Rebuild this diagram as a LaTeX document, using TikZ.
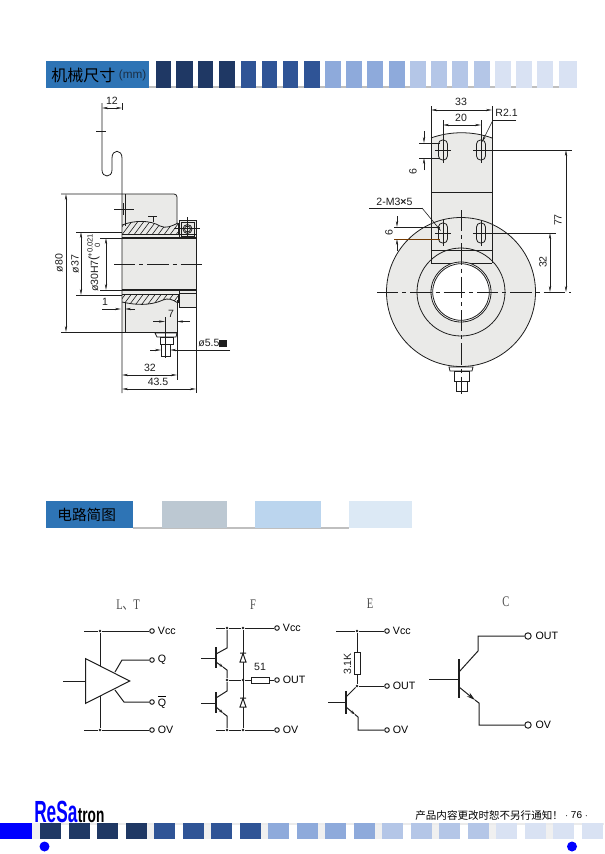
\documentclass[tikz,border=0pt]{standalone}
\usepackage{fontspec}
\setmainfont{Liberation Sans}
\newfontfamily\cjk{Noto Sans CJK SC}
\newfontfamily\serifcap{Liberation Serif}
\usepackage{tikz}
\usetikzlibrary{positioning, arrows.meta, shapes.geometric}
\definecolor{headblue}{HTML}{2E74B5}
\definecolor{darkbar}{HTML}{1F3864}
\definecolor{midbar}{HTML}{2F5496}
\definecolor{lightbar}{HTML}{8EAADB}
\definecolor{paleblue}{HTML}{B4C6E7}
\definecolor{palest}{HTML}{D9E2F3}
\definecolor{inkgray}{HTML}{1E1E1E}
\definecolor{bodygray}{HTML}{EAEAE8}
\definecolor{tabgray}{HTML}{BCC8D2}
\definecolor{tabblue}{HTML}{BBD5EE}
\definecolor{tabpale}{HTML}{DCE9F5}
\definecolor{unitgray}{HTML}{1B2F45}
\begin{document}
\begin{tikzpicture}[x=0.75pt, y=-0.75pt, line width=0.6pt, draw=inkgray, text=inkgray,
    dimtxt/.style={font=\fontsize{7.9}{8}\selectfont, inner sep=0pt},
    dimline/.style={line width=0.45pt, {Stealth[length=4.5pt,width=1.7pt]}-{Stealth[length=4.5pt,width=1.7pt]}},
    arrline/.style={line width=0.45pt, -{Stealth[length=4.5pt,width=1.7pt]}},
    extline/.style={line width=0.45pt},
    cline/.style={line width=0.6pt, dash pattern=on 16pt off 3pt on 3pt off 3pt},
    term/.style={shape=circle, draw, fill=white, inner sep=0pt, minimum size=3.4pt},
    bigterm/.style={shape=circle, draw, fill=white, inner sep=0pt, minimum size=4.8pt},
    jdot/.style={shape=circle, fill=inkgray, inner sep=0pt, minimum size=2.2pt},
    sig/.style={font=\fontsize{8}{8}\selectfont, inner sep=0pt, text=black},
    captxt/.style={font=\serifcap\fontsize{11}{11}\selectfont, inner sep=0pt, text=black!70, xscale=0.72},
    head/.style={font=\cjk\fontsize{11}{12}\selectfont, inner sep=0pt, text=black}]
    \useasboundingbox (0,0) rectangle (604,854);
    \fill[white] (0,0) rectangle (604,854);

    % top heading
    \fill[black!25] (149,86) rectangle (577,88);
    \fill[headblue] (46,61) rectangle (149,88);
    \node[head, font=\cjk\fontsize{12}{12}\selectfont, anchor=west] (mechTitle) at (51,75) {机械尺寸};
    \node[inner sep=0pt, font=\fontsize{8.8}{9}\selectfont, text=unitgray, right=2pt of mechTitle] (mechUnit) {(mm)};
    \foreach \xa/\xb/\col in {156/171/darkbar, 176/193/darkbar, 198/213/darkbar, 219/235/darkbar,
        241/256/midbar, 262/277/midbar, 283/298/midbar, 304/320/midbar,
        325/341/lightbar, 346/362/lightbar, 367/383/lightbar, 389/405/lightbar,
        410/426/paleblue, 431/447/paleblue, 452/468/paleblue, 474/490/paleblue,
        495/511/palest, 516/532/palest, 537/553/palest, 559/577/palest}
        \fill[\col] (\xa,61) rectangle (\xb,88);

    % side view: body
    \fill[bodygray] (122,194) -- (174,194) -- (177,197) -- (177,332) -- (122,332) -- cycle;
    \fill[bodygray] (122,234) rectangle (196,294);
    \fill[bodygray] (179,290) rectangle (196,307);
    \fill[bodygray] (179,220) rectangle (196,238);
    \draw (102,103) -- (102,170) .. controls (102,178) and (112,178) .. (112,170) -- (112,158)
        .. controls (112,149) and (122,149) .. (122,158) -- (122,393);
    \draw (125,194) -- (125,226);
    \draw (125,302) -- (125,332);
    \draw (61,194) -- (174,194) to[out=0, in=90] (177,197) -- (177,224);
    \draw (177,300) -- (177,380);
    \draw (61,332) -- (177,332);
    % hatched bands
    \begin{scope}
        \clip (122,225) .. controls (135,220) and (150,220) .. (160,226) .. controls (166,229) and (172,226) .. (178,223) -- (178,234) -- (122,234) -- cycle;
        \foreach \i in {0,6,...,72} \draw[line width=0.45pt] (115+\i,236) -- (127+\i,220);
    \end{scope}
    \begin{scope}
        \clip (122,294) -- (178,294) -- (178,303) .. controls (172,299) and (168,298) .. (163,300) .. controls (150,306) and (135,305) .. (122,302) -- cycle;
        \foreach \i in {0,6,...,72} \draw[line width=0.45pt] (115+\i,308) -- (127+\i,292);
    \end{scope}
    \draw (122,225) .. controls (135,220) and (150,220) .. (160,226) .. controls (166,229) and (172,226) .. (178,223);
    \draw (122,302) .. controls (135,305) and (150,306) .. (163,300) .. controls (168,298) and (172,299) .. (178,303);
    \draw (122,234) -- (196,234);
    \draw (178,223) -- (178,234);
    \draw (178,294) -- (178,303);
    \draw (122,294) -- (178,294);
    \draw[line width=0.8pt] (122,238) -- (196,238);
    \draw[line width=0.8pt] (122,290) -- (196,290);
    \draw (196,238) -- (196,393);
    \draw (179,290) rectangle (196,307);
    \draw (179,293) -- (196,293);
    % set screw
    \draw (179,220) rectangle (196,238);
    \draw (181,222) rectangle (194,236);
    \draw (187.5,229) circle (4.5);
    \draw (187.5,229) circle (3);
    \draw[line width=0.45pt] (187.5,217) -- (187.5,236);
    \draw[line width=0.45pt] (174,228) -- (200,228);
    % ticks on the lever
    \draw[line width=0.45pt] (96,131) -- (106,131);
    \draw[line width=0.45pt] (114,209) -- (134,209);
    \draw[line width=0.45pt] (123,203) -- (123,215);
    \draw[line width=0.45pt] (148,216) -- (157,216);
    \draw[line width=0.45pt] (153,216) -- (153,222);
    \draw[cline] (114,264) -- (204,264);
    % cable connector
    \draw (155,333) -- (177,333) -- (176,337) -- (157,337) -- cycle;
    \draw (160,337) rectangle (173,344);
    \draw (161,344) rectangle (170,356);
    \draw[line width=0.45pt] (165,317) -- (165,358);
    % side view dimensions
    \draw[extline] (122,103) -- (122,110);
    \node[dimtxt] (dimTwelve) at (112,101) {12};
    \coordinate (twelveA) at (102,108);
    \coordinate (twelveB) at (122,108);
    \draw[dimline] (twelveA) -- (twelveB);
    \coordinate (phiEightyA) at (66,194);
    \coordinate (phiEightyB) at (66,332);
    \draw[dimline] (phiEightyA) -- (phiEightyB);
    \node[dimtxt, rotate=90] (dimPhiEighty) at (59,263) {ø80};
    \draw[extline] (76,232) -- (122,232);
    \draw[extline] (76,295) -- (122,295);
    \coordinate (phiThirtySevenA) at (81,232);
    \coordinate (phiThirtySevenB) at (81,295);
    \draw[dimline] (phiThirtySevenA) -- (phiThirtySevenB);
    \node[dimtxt, rotate=90] (dimPhiThirtySeven) at (75,264) {ø37};
    \draw[extline] (100,238) -- (122,238);
    \draw[extline] (100,290) -- (122,290);
    \coordinate (boreA) at (106,238);
    \coordinate (boreB) at (106,290);
    \draw[dimline] (boreA) -- (boreB);
    \node[dimtxt, rotate=90] (dimBore) at (94.5,276) {ø30H7};
    \node[inner sep=0pt, rotate=90, font=\fontsize{9}{9}\selectfont] (dimBoreParen) at (94,258) {(};
    \node[inner sep=0pt, rotate=90, font=\fontsize{5.7}{6}\selectfont] (dimBoreUp) at (90,245.5) {+0.021};
    \node[inner sep=0pt, rotate=90, font=\fontsize{5.7}{6}\selectfont] (dimBoreLow) at (97.5,245.5) {0};
    \node[dimtxt] (dimOne) at (105,302) {1};
    \coordinate (oneA) at (102,309);
    \coordinate (oneB) at (121,309);
    \coordinate (oneC) at (135,309);
    \coordinate (oneD) at (125,309);
    \draw[arrline] (oneA) -- (oneB);
    \draw[arrline] (oneC) -- (oneD);
    \node[dimtxt] (dimSeven) at (171,314) {7};
    \coordinate (sevenA) at (153,321.5);
    \coordinate (sevenB) at (165,321.5);
    \coordinate (sevenC) at (190,321.5);
    \coordinate (sevenD) at (177,321.5);
    \draw[arrline] (sevenA) -- (sevenB);
    \draw[arrline] (sevenC) -- (sevenD);
    \node[dimtxt, anchor=west] (dimStud) at (198,343) {ø5.5\rule{6pt}{5pt}};
    \coordinate (studA) at (150,350);
    \coordinate (studB) at (161,350);
    \coordinate (studC) at (230,350);
    \coordinate (studD) at (170,350);
    \draw[arrline] (studA) -- (studB);
    \draw[arrline] (studC) -- (studD);
    \node[dimtxt] (dimThirtyTwo) at (150,368) {32};
    \coordinate (lenA) at (122,375);
    \coordinate (lenB) at (177,375);
    \draw[dimline] (lenA) -- (lenB);
    \node[dimtxt] (dimFortyThree) at (158,382) {43.5};
    \coordinate (totA) at (122,389);
    \coordinate (totB) at (196,389);
    \draw[dimline] (totA) -- (totB);

    % front view
    \fill[bodygray] (461,292) circle (74.5);
    \draw (461,292) circle (74.5);
    \fill[bodygray] (431,138) .. controls (450,131) and (473,131) .. (492,138) -- (492,263) -- (431,263) -- cycle;
    \draw (431,138) .. controls (450,131) and (473,131) .. (492,138);
    \draw (431,106) -- (431,263);
    \draw (492,106) -- (492,263);
    \draw (431,192) -- (492,192);
    \draw (431,250) -- (492,250);
    \draw (431,263) -- (492,263);
    \begin{scope}
        \clip (431,200) rectangle (492,263);
        \draw (461,292) circle (74.5);
    \end{scope}
    \draw (461,292) circle (44);
    \fill[white] (461,292) circle (30);
    \draw (461,292) circle (30);
    \draw (461,292) circle (28.3);
    \foreach \sx in {443,481}
        \foreach \sy in {150,233} {
            \draw[rounded corners=3pt] (\sx-4.5,\sy-10) rectangle (\sx+4.5,\sy+10);
            \draw[line width=0.45pt] (\sx,\sy-13) -- (\sx,\sy+13);
            \draw[line width=0.45pt] (\sx-8,\sy) -- (\sx+8,\sy);
        }
    \draw[cline] (377,292) -- (571,292);
    \draw[cline] (461,210) -- (461,394);
    \draw (449,367) -- (473,367) -- (472,371) -- (450,371) -- cycle;
    \draw (454,371) rectangle (469,381);
    \draw (456,381) rectangle (467,391);
    % front view dimensions
    \node[dimtxt] (dimThirtyThree) at (461,102) {33};
    \coordinate (wideA) at (431,110);
    \coordinate (wideB) at (492,110);
    \draw[dimline] (wideA) -- (wideB);
    \node[dimtxt] (dimTwenty) at (461,118) {20};
    \coordinate (pitchA) at (443,125);
    \coordinate (pitchB) at (481,125);
    \draw[dimline] (pitchA) -- (pitchB);
    \draw[extline] (443,120) -- (443,140);
    \draw[extline] (481,120) -- (481,140);
    \node[dimtxt, anchor=west] (dimRadius) at (495,113) {R2.1};
    \coordinate (radEnd) at (516,120);
    \coordinate (radKnee) at (493,120);
    \coordinate (radTip) at (482,142);
    \draw[extline] (radEnd) -- (radKnee);
    \draw[arrline] (radKnee) -- (radTip);
    \node[dimtxt, rotate=90] (dimSixTop) at (413,172) {6};
    \draw[extline] (419,143) -- (440,143);
    \draw[extline] (419,158) -- (440,158);
    \coordinate (sixA) at (424,131);
    \coordinate (sixB) at (424,143);
    \coordinate (sixC) at (424,170);
    \coordinate (sixD) at (424,158);
    \draw[arrline] (sixA) -- (sixB);
    \draw[arrline] (sixC) -- (sixD);
    \node[dimtxt, anchor=west] (dimThread) at (376,202) {2-M3\textbf{×}5};
    \coordinate (threadEnd) at (369,208);
    \coordinate (threadKnee) at (422,208);
    \coordinate (threadTip) at (441,231);
    \draw[extline] (threadEnd) -- (threadKnee);
    \draw[arrline] (threadKnee) -- (threadTip);
    \node[dimtxt, rotate=90] (dimSixLow) at (389,233) {6};
    \draw[extline] (394,227) -- (440,227);
    \draw[extline, draw=black!55!orange] (394,239) -- (440,239);
    \coordinate (sixE) at (397,216);
    \coordinate (sixF) at (397,227);
    \coordinate (sixG) at (397,251);
    \coordinate (sixH) at (397,239);
    \draw[arrline] (sixE) -- (sixF);
    \draw[arrline] (sixG) -- (sixH);
    \draw[extline] (487,150) -- (572,150);
    \draw[extline] (487,233) -- (556,233);
    \coordinate (tallA) at (566,150);
    \coordinate (tallB) at (566,292);
    \draw[dimline] (tallA) -- (tallB);
    \node[dimtxt, rotate=90] (dimTall) at (558,220) {77};
    \coordinate (lowA) at (550,233);
    \coordinate (lowB) at (550,292);
    \draw[dimline] (lowA) -- (lowB);
    \node[dimtxt, rotate=90] (dimLow) at (543,262) {32};

    % second heading
    \fill[black!25] (133,527) rectangle (349,529);
    \fill[headblue] (46,501) rectangle (133,528);
    \node[head, anchor=west] (circTitle) at (57,515) {电路简图};
    \fill[tabgray] (162,501) rectangle (227,528);
    \fill[tabblue] (255,501) rectangle (321,528);
    \fill[tabpale] (349,501) rectangle (412,528);

    \begin{scope}[line width=0.75pt]
    % circuit L,T
    \node[captxt] (capLT) at (128,605) {L{\cjk 、}T};
    \node[term] (ltVcc) at (152,631) {};
    \node[term] (ltQ) at (152,660) {};
    \node[term] (ltNQ) at (152,702) {};
    \node[term] (ltOV) at (152,730) {};
    \node[sig, right=2pt of ltVcc] (ltVccTxt) {Vcc};
    \node[sig, right=2pt of ltQ] (ltQTxt) {Q};
    \node[sig, right=2pt of ltNQ] (ltNQTxt) {$\overline{\mbox{Q}}$};
    \node[sig, right=2pt of ltOV] (ltOVTxt) {OV};
    \node[jdot] (ltTop) at (100,631) {};
    \node[jdot] (ltBot) at (100,730) {};
    \coordinate (ltVccIn) at (84,631);
    \coordinate (ltOVIn) at (84,730);
    \coordinate (ltIn) at (63,681);
    \draw (ltVccIn) -- (ltTop) -- (ltVcc);
    \draw (ltOVIn) -- (ltBot) -- (ltOV);
    \draw (ltTop) -- (ltBot);
    \node[draw, fill=white, isosceles triangle, isosceles triangle stretches, inner sep=0pt,
        minimum width=33.5pt, minimum height=33pt, anchor=apex] (ltAmp) at (131,681) {};
    \draw (ltIn) -- (ltAmp.lower side);
    \coordinate (ltQFoot) at (115,672);
    \coordinate (ltQKnee) at (122,660);
    \coordinate (ltNQFoot) at (115,690);
    \coordinate (ltNQKnee) at (124,702);
    \draw (ltQFoot) -- (ltQKnee) -- (ltQ);
    \draw (ltNQFoot) -- (ltNQKnee) -- (ltNQ);

    % circuit F
    \node[captxt] (capF) at (253,605) {F};
    \node[term] (fVcc) at (277,628) {};
    \node[term] (fOut) at (277,680) {};
    \node[term] (fOV) at (277,730) {};
    \node[sig, right=2pt of fVcc] (fVccTxt) {Vcc};
    \node[sig, right=2pt of fOut] (fOutTxt) {OUT};
    \node[sig, right=2pt of fOV] (fOVTxt) {OV};
    \node[jdot] (fColTop) at (227,628) {};
    \node[jdot] (fDioTop) at (243,628) {};
    \node[jdot] (fMidL) at (227,680) {};
    \node[jdot] (fMidR) at (243,680) {};
    \node[jdot] (fColBot) at (227,730) {};
    \node[jdot] (fDioBot) at (243,730) {};
    \node[draw, fill=white, inner sep=0pt, minimum width=13.5pt, minimum height=4.5pt] (fRes) at (260,680) {};
    \node[dimtxt] (fResTxt) at (260,667) {51};
    \coordinate (fVccIn) at (216,628);
    \coordinate (fOVIn) at (216,730);
    \draw (fVccIn) -- (fColTop) -- (fDioTop) -- (fVcc);
    \draw (fOVIn) -- (fColBot) -- (fDioBot) -- (fOV);
    \draw (fMidL) -- (fMidR) -- (fRes) -- (fOut);
    \draw (fDioTop) -- (fDioBot);
    \foreach \dy in {657.5, 702.5}
        \draw[fill=white] (240,\dy+4.5) -- (246,\dy+4.5) -- (243,\dy-4) -- cycle (240,\dy-4.5) -- (246,\dy-4.5);
    \coordinate (fBaseA) at (201,658);
    \coordinate (fBarA) at (216,658);
    \coordinate (fBaseB) at (201,703);
    \coordinate (fBarB) at (216,703);
    \draw (fBaseA) -- (fBarA);
    \draw (fBaseB) -- (fBarB);
    \draw[line width=1pt] (216,647) -- (216,668);
    \draw[line width=1pt] (216,692) -- (216,713);
    \draw (216,654) -- (227,648) -- (fColTop);
    \draw[line width=0.75pt, -{Stealth[length=3pt,width=2.2pt]}] (216,662) -- (223,667);
    \draw (223,667) -- (227,670) -- (fMidL);
    \draw (216,698) -- (227,691) -- (fMidL);
    \draw[line width=0.75pt, -{Stealth[length=3pt,width=2.2pt]}] (216,707) -- (223,713);
    \draw (223,713) -- (227,716) -- (fColBot);

    % circuit E
    \node[captxt] (capE) at (370,604) {E};
    \node[term] (eVcc) at (387,631) {};
    \node[term] (eOut) at (387,686) {};
    \node[term] (eOV) at (387,730) {};
    \node[sig, right=2pt of eVcc] (eVccTxt) {Vcc};
    \node[sig, right=2pt of eOut] (eOutTxt) {OUT};
    \node[sig, right=2pt of eOV] (eOVTxt) {OV};
    \node[jdot] (eTop) at (357,631) {};
    \node[jdot] (eMid) at (357,686) {};
    \node[draw, fill=white, inner sep=0pt, minimum width=4.5pt, minimum height=16.5pt] (eRes) at (357,663) {};
    \node[dimtxt, rotate=90] (eResTxt) at (347.5,664) {3.1K};
    \coordinate (eVccIn) at (336,631);
    \coordinate (eBase) at (328,702);
    \coordinate (eBar) at (346,702);
    \coordinate (eEmit) at (358,717);
    \coordinate (eKnee) at (358,730);
    \draw (eVccIn) -- (eTop) -- (eVcc);
    \draw (eTop) -- (eRes) -- (eMid) -- (eOut);
    \draw (eBase) -- (eBar);
    \draw[line width=1pt] (346,691) -- (346,714);
    \draw (346,697) -- (eMid);
    \draw[line width=0.75pt, -{Stealth[length=3.5pt,width=2.2pt]}] (346,707) -- (355,714.5);
    \draw (355,714.5) -- (eEmit) -- (eKnee) -- (eOV);

    % circuit C
    \node[captxt] (capC) at (506,602) {C};
    \node[bigterm] (cOut) at (528,636) {};
    \node[bigterm] (cOV) at (528,725) {};
    \node[sig, right=2.5pt of cOut] (cOutTxt) {OUT};
    \node[sig, right=2.5pt of cOV] (cOVTxt) {OV};
    \coordinate (cBase) at (429,679);
    \coordinate (cBar) at (459,679);
    \coordinate (cColKnee) at (478,651);
    \coordinate (cColTop) at (478,636);
    \coordinate (cEmitKnee) at (479,703);
    \coordinate (cEmitLow) at (479,725);
    \draw (cBase) -- (cBar);
    \draw[line width=1pt] (459,659) -- (459,698);
    \draw (459,672) -- (cColKnee) -- (cColTop) -- (cOut);
    \draw[-{Stealth[length=6.5pt,width=3.5pt]}] (459,687) -- (475,700);
    \draw (475,700) -- (cEmitKnee) -- (cEmitLow) -- (cOV);
    \end{scope}

    % footer
    \node[inner sep=0pt, anchor=west, font=\cjk\fontsize{7.9}{8}\selectfont, text=black] (footTxt) at (415,815) {产品内容更改时恕不另行通知！};
    \node[inner sep=0pt, font=\fontsize{7.5}{8}\selectfont, text=black, right=1pt of footTxt] (footPage) {$\cdot$ 76 $\cdot$};
    \node[inner sep=0pt, anchor=base west, font=\bfseries\fontsize{17}{17}\selectfont, text=blue, xscale=0.76, yscale=1.35] (logoA) at (34,822) {ReSa};
    \node[inner sep=0pt, anchor=base west, font=\bfseries\fontsize{11}{11}\selectfont, text=black, xscale=0.93, yscale=1.45] (logoB) at (77.5,822) {tron};

    \fill[black!8] (0,823) rectangle (604,825);
    \fill[blue] (0,823) rectangle (32,839);
    \fill[black!6] (32,823) rectangle (40,839);
    \foreach \k in {3,5,...,17}
        \fill[black!6] ({40+28.5*\k+21},825) rectangle ({40+28.5*\k+28.5},839);
    \foreach \k/\col in {0/darkbar, 1/darkbar, 2/darkbar, 3/darkbar, 4/midbar, 5/midbar, 6/midbar, 7/midbar,
        8/lightbar, 9/lightbar, 10/lightbar, 11/lightbar, 12/paleblue, 13/paleblue, 14/paleblue, 15/paleblue,
        16/palest, 17/palest, 18/palest, 19/palest}
        \fill[\col] ({40+28.5*\k},823) rectangle ({40+28.5*\k+21},839);
    \fill[blue] (44.5,846.5) circle (5);
    \fill[blue] (572,846.5) circle (5);
\end{tikzpicture}
\end{document}
